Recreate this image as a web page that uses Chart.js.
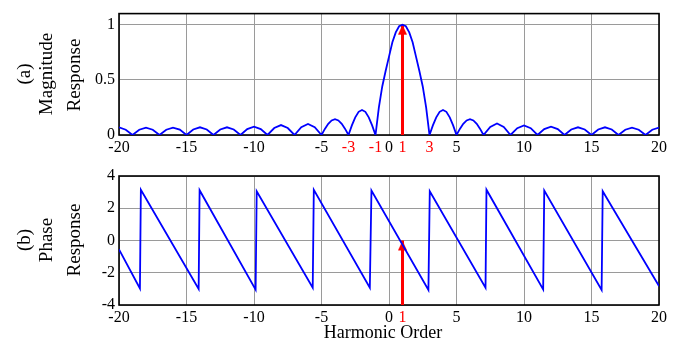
<!DOCTYPE html>
<html>
<head>
<meta charset="utf-8">
<script src="https://cdn.jsdelivr.net/npm/chart.js@4/dist/chart.umd.min.js"></script>
<style>
  body { margin: 0; background: #fff; }
  #wrap { position: relative; width: 684px; height: 347px; }
  canvas { position: absolute; left: 0; }
  #magChart { top: 0; }
  #phaseChart { top: 160px; }
</style>
</head>
<body>
<div id="wrap">
  <canvas id="magChart" width="684" height="160"></canvas>
  <canvas id="phaseChart" width="684" height="187"></canvas>
</div>
<script>
// magnitude response (one row per group of lobes)
const magHarmonic = [
  -20, -19.5, -19, -18.5, -18, -17.5, -17, -16.5, -16, -15.5, -15, -14.5, -14, -13.5, -13,
  -12.5, -12, -11.5, -11, -10.5, -10, -9.5, -9, -8.5, -8, -7.5, -7, -6.5, -6, -5.5, -5,
  -4.75, -4.5, -4.25, -4, -3.75, -3.5, -3.25, -3, -2.75, -2.5, -2.25, -2, -1.75, -1.5, -1.25, -1,
  -0.75, -0.5, -0.25, 0, 0.25, 0.5, 0.75, 1, 1.25, 1.5, 1.75, 2, 2.25, 2.5, 2.75, 3,
  3.25, 3.5, 3.75, 4, 4.25, 4.5, 4.75, 5, 5.25, 5.5, 5.75, 6, 6.25, 6.5, 6.75, 7,
  7.5, 8, 8.5, 9, 9.5, 10, 10.5, 11, 11.5, 12, 12.5, 13,
  13.5, 14, 14.5, 15, 15.5, 16, 16.5, 17, 17.5, 18, 18.5, 19, 19.5, 20
];
const magValue = [
  0.07, 0.048, 0, 0.048, 0.067, 0.048, 0, 0.048, 0.067, 0.049, 0, 0.05, 0.07, 0.05, 0,
  0.05, 0.07, 0.05, 0, 0.054, 0.076, 0.054, 0, 0.063, 0.09, 0.063, 0, 0.071, 0.1, 0.071, 0,
  0.055, 0.101, 0.132, 0.143, 0.132, 0.101, 0.055, 0, 0.087, 0.16, 0.21, 0.227, 0.21, 0.16, 0.087, 0,
  0.25, 0.44, 0.58, 0.71, 0.84, 0.93, 0.985, 1, 0.985, 0.93, 0.84, 0.71, 0.58, 0.44, 0.25, 0,
  0.087, 0.16, 0.21, 0.227, 0.21, 0.16, 0.087, 0, 0.055, 0.101, 0.132, 0.143, 0.132, 0.101, 0.055, 0,
  0.073, 0.104, 0.073, 0, 0.062, 0.087, 0.062, 0, 0.054, 0.076, 0.054, 0,
  0.05, 0.07, 0.05, 0, 0.05, 0.07, 0.05, 0, 0.048, 0.067, 0.048, 0, 0.048, 0.067
];

// phase response, sawtooth corners
const phaseHarmonic = [-20, -18.45, -18.38, -14.1, -14.03, -9.88, -9.8, -5.65, -5.57, -1.42, -1.3,
  2.92, 3.02, 7.15, 7.22, 11.42, 11.5, 15.75, 15.83, 20];
const phaseValue = [-0.55, -2.97, 3.15, -3.0, 3.12, -3.05, 3.05, -2.93, 3.15, -2.93, 3.1,
  -3.07, 3.05, -2.93, 3.15, -3.03, 3.1, -3.07, 3.05, -2.83];

// fundamental marker
const arrowHarmonic = 1;
const magArrow = [0, 1];
const phaseArrow = [-4, 0];

// axes
const magXTicks = [-20, -15, -10, -5, -3, -1, 0, 1, 3, 5, 10, 15, 20];
const magRedTicks = [-3, -1, 1, 3];
const magYTicks = [0, 0.5, 1];
const phaseXTicks = [-20, -15, -10, -5, 0, 1, 5, 10, 15, 20];
const phaseRedTicks = [1];
const phaseYTicks = [-4, -2, 0, 2, 4];
const gridXTicks = [-20, -15, -10, -5, 0, 5, 10, 15, 20];

const SERIF = "'Liberation Serif', 'Times New Roman', serif";
Chart.defaults.color = '#000';
Chart.defaults.font.family = SERIF;

// arrow head image: tip sits on the point
const head = document.createElement('canvas');
head.width = 11; head.height = 22;
const hc = head.getContext('2d');
hc.fillStyle = '#ff0000';
hc.beginPath();
hc.moveTo(5.5, 11); hc.lineTo(10, 21); hc.lineTo(1, 21);
hc.closePath(); hc.fill();

const pairs = (xs, ys) => xs.map((x, i) => ({ x: x, y: ys[i] }));

const framePlugin = {
  id: 'frame',
  beforeDatasetsDraw(chart) {
    const { ctx, chartArea: a } = chart;
    ctx.save();
    ctx.strokeStyle = '#000';
    ctx.lineWidth = 1.6;
    ctx.strokeRect(a.left, a.top, a.right - a.left, a.bottom - a.top);
    ctx.restore();
  }
};

function textPlugin(items) {
  return {
    id: 'texts',
    afterDraw(chart) {
      const ctx = chart.ctx;
      ctx.save();
      ctx.fillStyle = '#000';
      ctx.textAlign = 'center';
      ctx.textBaseline = 'middle';
      items.forEach(t => {
        ctx.save();
        ctx.font = (t.size || 18) + 'px ' + SERIF;
        ctx.translate(t.x, t.y);
        if (t.rotate) ctx.rotate(-Math.PI / 2);
        ctx.fillText(t.text, 0, 0);
        ctx.restore();
      });
      ctx.restore();
    }
  };
}

function makeOptions(xTicks, redTicks, yTicks, yMin, yMax, xHeight) {
  return {
    responsive: false,
    animation: false,
    layout: { padding: { top: 0, right: 25, left: 0, bottom: 0 } },
    plugins: { legend: { display: false }, tooltip: { enabled: false } },
    scales: {
      x: {
        type: 'linear', min: -20, max: 20,
        afterBuildTicks: s => { s.ticks = xTicks.map(v => ({ value: v })); },
        afterFit: s => { s.height = xHeight; },
        border: { display: false },
        grid: {
          drawTicks: false, lineWidth: 1,
          color: c => (c.tick && gridXTicks.includes(c.tick.value)) ? '#9a9a9a' : 'rgba(0,0,0,0)'
        },
        ticks: {
          autoSkip: false, maxRotation: 0, minRotation: 0, padding: 3,
          font: { size: 16 },
          color: c => redTicks.includes(c.tick.value) ? '#ff0000' : '#000',
          callback: v => String(v)
        }
      },
      y: {
        min: yMin, max: yMax,
        afterBuildTicks: s => { s.ticks = yTicks.map(v => ({ value: v })); },
        afterFit: s => { s.width = 119; },
        border: { display: false },
        grid: { drawTicks: false, color: '#9a9a9a', lineWidth: 1 },
        ticks: { padding: 4, font: { size: 16 }, callback: v => String(v) }
      }
    }
  };
}

const arrowSet = ys => ({
  data: pairs([arrowHarmonic, arrowHarmonic], ys),
  borderColor: '#ff0000', borderWidth: 3, borderCapStyle: 'butt',
  pointStyle: head, pointRadius: [0, 5], pointHoverRadius: 0,
  tension: 0
});

const magOpts = makeOptions(magXTicks, magRedTicks, magYTicks, 0, 1.1, 25);
magOpts.layout.padding.top = 5;
new Chart(document.getElementById('magChart'), {
  type: 'line',
  data: {
    datasets: [
      { data: pairs(magHarmonic, magValue), borderColor: '#0000ff', borderWidth: 1.8,
        pointRadius: 0, tension: 0 },
      arrowSet(magArrow)
    ]
  },
  options: magOpts,
  plugins: [framePlugin, textPlugin([
    { text: '(a)', x: 25, y: 74, rotate: true, size: 19 },
    { text: 'Magnitude', x: 47, y: 74, rotate: true, size: 19 },
    { text: 'Response', x: 75, y: 75, rotate: true, size: 19 }
  ])]
});

const phaseOpts = makeOptions(phaseXTicks, phaseRedTicks, phaseYTicks, -4, 4, 42);
phaseOpts.layout.padding.top = 16;
new Chart(document.getElementById('phaseChart'), {
  type: 'line',
  data: {
    datasets: [
      { data: pairs(phaseHarmonic, phaseValue), borderColor: '#0000ff', borderWidth: 1.8,
        pointRadius: 0, tension: 0 },
      arrowSet(phaseArrow)
    ]
  },
  options: phaseOpts,
  plugins: [framePlugin, textPlugin([
    { text: '(b)', x: 25, y: 80, rotate: true, size: 19 },
    { text: 'Phase', x: 47, y: 80, rotate: true, size: 19 },
    { text: 'Response', x: 75, y: 80, rotate: true, size: 19 },
    { text: 'Harmonic Order', x: 383, y: 173 }
  ])]
});
</script>
</body>
</html>
